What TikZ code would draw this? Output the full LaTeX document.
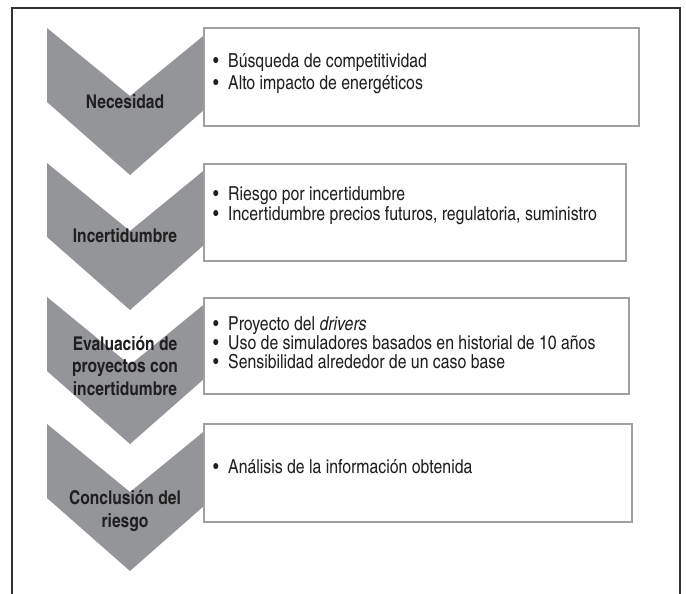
\documentclass[tikz,border=0pt]{standalone}
\usepackage{fontspec}
\setmainfont{TeX Gyre Heros Cn}
\definecolor{chevgray}{RGB}{147,149,152}
\definecolor{boxgray}{RGB}{160,160,160}
\definecolor{framegray}{RGB}{50,50,50}
\newcommand{\itembul}{\makebox[15pt][l]{\textbullet}}
\begin{document}
\begin{tikzpicture}[x=1pt,y=-1pt,
  chev/.style={fill=chevgray,draw=none},
  itembox/.style={fill=white,draw=boxgray,line width=2pt},
  chevlabel/.style={font=\fontsize{19}{22.5}\selectfont\bfseries,text=black!88,align=center,inner sep=0pt},
  itemline/.style={font=\fontsize{19.3}{20}\selectfont,text=black!88,anchor=base west,inner sep=0pt}]
\useasboundingbox (0,0) rectangle (686,594);
% frame
\coordinate (f1) at (12,600);
\coordinate (f2) at (12,8);
\coordinate (f3) at (680,8);
\coordinate (f4) at (680,600);
\draw[framegray,line width=1.3pt] (f1) -- (f2) -- (f3) -- (f4);
% chevrons
\foreach \t [count=\i] in {28,163,297,424}{
  \fill[chev] (47,\t) -- (130,\t+68) -- (213,\t) -- (213,\t+74) -- (130,\t+147) -- (47,\t+74) -- cycle;
}
% boxes
\node[itembox,minimum width=435pt,minimum height=98pt,anchor=north west] (b1) at (203,27) {};
\node[itembox,minimum width=422pt,minimum height=97pt,anchor=north west] (b2) at (203,163) {};
\node[itembox,minimum width=425pt,minimum height=96pt,anchor=north west] (b3) at (203,297) {};
\node[itembox,minimum width=428pt,minimum height=98pt,anchor=north west] (b4) at (203,423) {};
% chevron labels
\node[chevlabel] (l1) at (125,102) {Necesidad};
\node[chevlabel] (l2) at (125,236) {Incertidumbre};
\node[chevlabel] (l3) at (125,366) {Evaluación de\\proyectos con\\incertidumbre};
\node[chevlabel] (l4) at (125,511) {Conclusión del\\riesgo};
% items
\node[itemline] (t11) at (213,68) {\itembul Búsqueda de competitividad};
\node[itemline] (t12) at (213,89) {\itembul Alto impacto de energéticos};
\node[itemline] (t21) at (213,200) {\itembul Riesgo por incertidumbre};
\node[itemline] (t22) at (213,220) {\itembul Incertidumbre precios futuros, regulatoria, suministro};
\node[itemline] (t31) at (213,330) {\itembul Proyecto del \textit{drivers}};
\node[itemline] (t32) at (213,349) {\itembul Uso de simuladores basados en historial de 10 años};
\node[itemline] (t33) at (213,368) {\itembul Sensibilidad alrededor de un caso base};
\node[itemline] (t41) at (213,473) {\itembul Análisis de la información obtenida};
\end{tikzpicture}
\end{document}
